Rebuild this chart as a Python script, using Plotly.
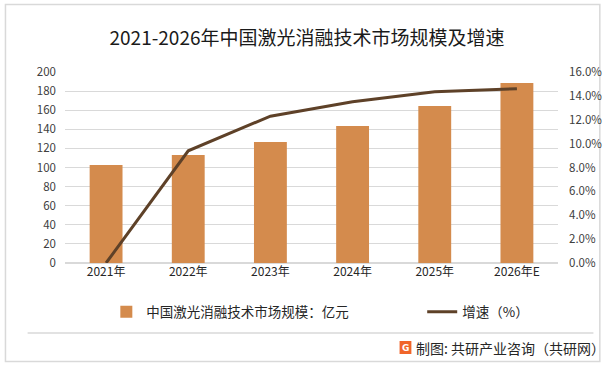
import plotly.graph_objects as go

years = ["2021年", "2022年", "2023年", "2024年", "2025年", "2026年E"]
market_size = [102.6, 113.0, 126.7, 143.4, 164.4, 188.5]
growth_rate = [0.0, 9.4, 12.3, 13.5, 14.35, 14.6]

bar_name = "中国激光消融技术市场规模：亿元"
line_name = "增速（%）"
title_text = "2021-2026年中国激光消融技术市场规模及增速"
source_text = "制图: 共研产业咨询（共研网）"

FONT = "Noto Sans CJK SC"
W, H = 614, 365
L, R, T, B = 65, 48, 72, 102
PW, PH = W - L - R, H - T - B


def px(x):
    return (x - L) / PW


def py(y):
    return (H - B - y) / PH


fig = go.Figure()
fig.add_trace(go.Bar(
    x=years, y=market_size, name=bar_name,
    marker=dict(color="#D48B4D", line=dict(width=0)),
    yaxis="y", legend="legend",
))
fig.add_trace(go.Scatter(
    x=years, y=[g / 100 for g in growth_rate], name=line_name,
    mode="lines", line=dict(color="#5E4128", width=3),
    yaxis="y2", legend="legend2",
))

legend_common = dict(
    orientation="h", xanchor="left", yanchor="middle",
    font=dict(family=FONT, size=13.5, color="#262626"),
    bgcolor="rgba(0,0,0,0)",
)

fig.update_layout(
    width=W, height=H,
    margin=dict(l=L, r=R, t=T, b=B),
    paper_bgcolor="white", plot_bgcolor="white",
    font=dict(family=FONT, size=12, color="#404040"),
    bargap=0.6,
    showlegend=True,
    legend=dict(x=px(107), y=py(312), **legend_common),
    legend2=dict(x=px(428), y=py(312), **legend_common),
    xaxis=dict(
        showgrid=False, showline=False, zeroline=False, ticks="",
        tickfont=dict(size=12, color="#262626"),
    ),
    yaxis=dict(
        range=[0, 200], dtick=20, showgrid=True, gridcolor="#D9D9D9", gridwidth=1,
        zeroline=True, zerolinecolor="#D9D9D9", showline=False, ticks="",
        tickfont=dict(size=11.5, color="#404040"), ticklabelstandoff=8,
    ),
    yaxis2=dict(
        range=[0, 0.16], dtick=0.02, tickformat=".1%", overlaying="y", side="right",
        showgrid=False, zeroline=False, showline=False, ticks="",
        tickfont=dict(size=11.5, color="#404040"), ticklabelstandoff=10,
    ),
    title=dict(
        text=title_text, x=0.5, xanchor="center", y=(H - 38) / H, yanchor="middle",
        font=dict(family=FONT, size=19, color="#1a1a1a"),
    ),
)

# Outer border and footer separator
fig.add_shape(type="rect", xref="paper", yref="paper",
              x0=px(4.5), x1=px(608.5), y0=py(361.5), y1=py(4.5),
              line=dict(color="#D9D9D9", width=1.5), fillcolor="rgba(0,0,0,0)", layer="below")
fig.add_shape(type="line", xref="paper", yref="paper",
              x0=px(27), x1=px(602), y0=py(333), y1=py(333),
              line=dict(color="#D9D9D9", width=1.5))

# Footer logo and source text
fig.add_shape(type="rect", xref="paper", yref="paper",
              x0=px(405), x1=px(417), y0=py(354), y1=py(341),
              line=dict(width=0), fillcolor="#F0652A")
fig.add_annotation(xref="paper", yref="paper",
                   x=px(411), y=py(347.5),
                   text="<b>G</b>", showarrow=False, xanchor="center", yanchor="middle",
                   font=dict(family="DejaVu Sans", size=9, color="white"))
fig.add_annotation(xref="paper", yref="paper",
                   x=px(420), y=py(348),
                   text=source_text, showarrow=False, xanchor="left", yanchor="middle",
                   font=dict(family=FONT, size=14, color="#262626"))

fig.write_html("out.html", config={"displayModeBar": False},
               post_script="document.body.style.margin='0px';")
